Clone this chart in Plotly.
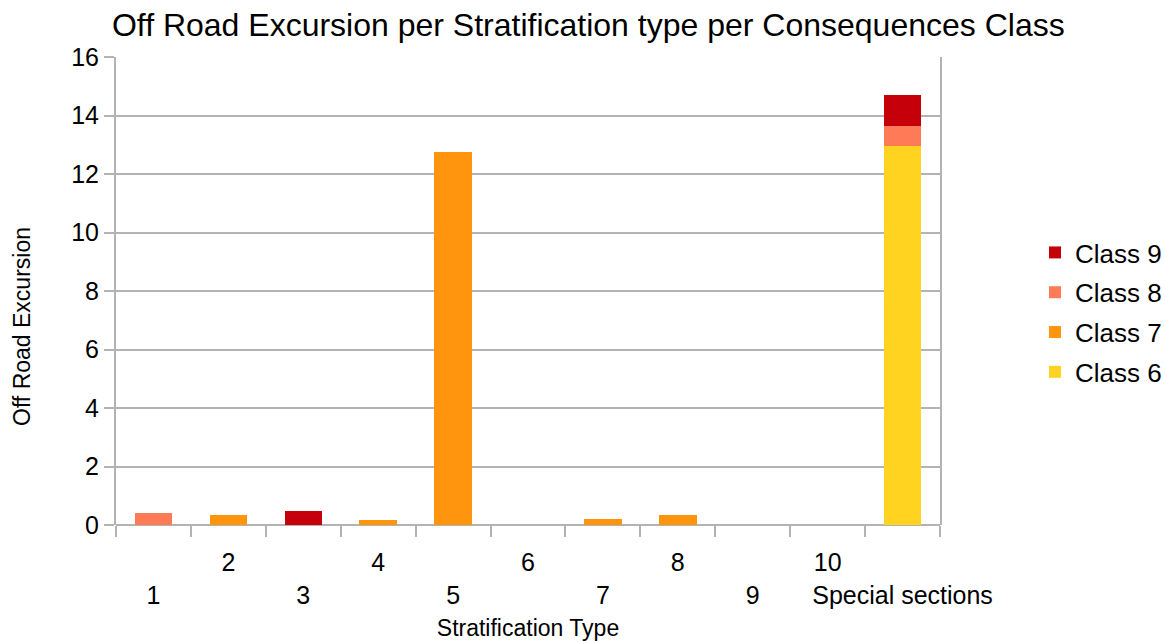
import plotly.graph_objects as go

# Stratification types along the x axis
categories = ["1", "2", "3", "4", "5", "6", "7", "8", "9", "10", "Special sections"]

# Off road excursion per consequence class (stacked bottom to top: 6, 7, 8, 9)
class6 = [0, 0, 0, 0, 0, 0, 0, 0, 0, 0, 12.97]
class7 = [0, 0.34, 0, 0.17, 12.74, 0, 0.19, 0.33, 0, 0, 0]
class8 = [0.40, 0, 0, 0, 0, 0, 0, 0, 0, 0, 0.66]
class9 = [0, 0, 0.47, 0, 0, 0, 0, 0, 0, 0, 1.07]

series = [
    ("Class 6", class6, "#ffd320", 4),
    ("Class 7", class7, "#ff950e", 3),
    ("Class 8", class8, "#ff7b57", 2),
    ("Class 9", class9, "#c5000b", 1),
]

# Two-row staggered labels: odd positions drop to the second line
tick_text = [c if i % 2 == 1 else "<br>" + c for i, c in enumerate(categories)]

FONT = "Liberation Sans, Arial, sans-serif"
GRID = "#b3b3b3"

fig = go.Figure()
for name, vals, color, rank in series:
    fig.add_trace(go.Bar(
        x=categories, y=vals, name=name, legendgroup=name, legendrank=rank,
        marker=dict(color=color, line=dict(width=0)),
    ))

fig.update_layout(
    barmode="stack",
    bargap=0.5,
    width=1165, height=641,
    margin=dict(l=116, r=225, t=57, b=116, autoexpand=False),
    paper_bgcolor="white", plot_bgcolor="white",
    font=dict(family=FONT, color="#000000", size=24),
    title=dict(
        text="Off Road Excursion per Stratification type per Consequences Class",
        x=0.505, xanchor="center", y=0.962, yanchor="middle",
        font=dict(size=32, family=FONT, color="#000000"),
    ),
    legend=dict(
        traceorder="grouped", tracegroupgap=3,
        x=1.1153, xref="paper", xanchor="left",
        y=0.454, yanchor="middle",
        font=dict(size=26, family=FONT),
        bgcolor="rgba(0,0,0,0)",
        itemwidth=30,
    ),
    showlegend=True,
    annotations=[dict(
        text="Off Road Excursion", textangle=-90,
        xref="paper", yref="paper",
        x=(22 - 116) / 824, y=(525 - 327) / 468,
        xanchor="center", yanchor="middle", showarrow=False,
        font=dict(size=23, family=FONT, color="#000000"),
    )],
)

fig.update_xaxes(
    tickmode="array", tickvals=categories, ticktext=tick_text,
    tickson="boundaries", ticks="outside", ticklen=11, tickwidth=2, tickcolor=GRID,
    tickangle=0, automargin=False, ticklabelstandoff=20,
    showline=False, showgrid=False,
    tickfont=dict(size=25, family=FONT),
    title=dict(text="Stratification Type", font=dict(size=23, family=FONT), standoff=12),
)

fig.update_yaxes(
    range=[0, 16], dtick=2, tick0=0, automargin=False,
    showgrid=True, gridcolor=GRID, gridwidth=2,
    zeroline=True, zerolinecolor=GRID, zerolinewidth=2,
    showline=True, linecolor=GRID, linewidth=2, mirror=True,
    ticks="outside", ticklen=10, tickwidth=2, tickcolor=GRID,
    tickfont=dict(size=25, family=FONT),
)

fig.write_html("out.html")
